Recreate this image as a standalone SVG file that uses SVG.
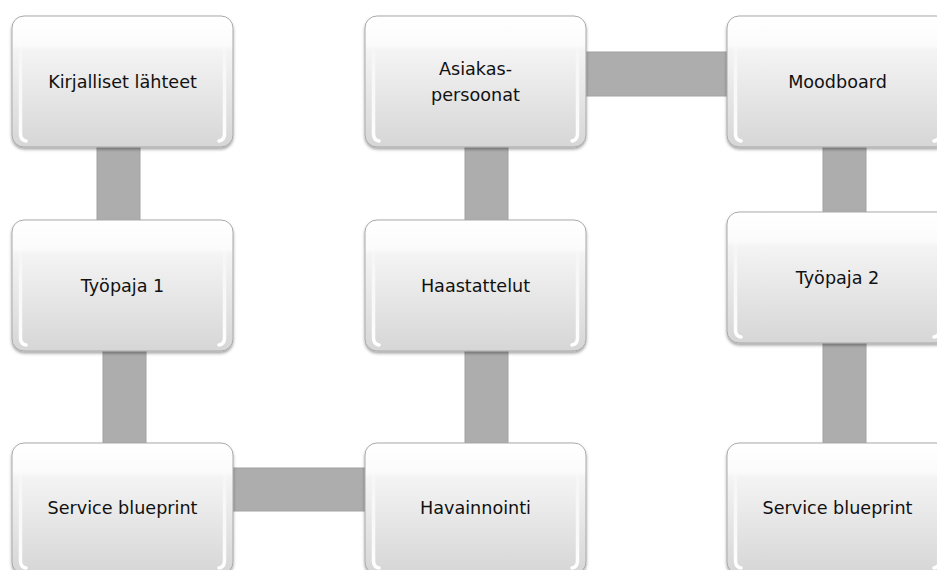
<svg xmlns="http://www.w3.org/2000/svg" width="937" height="570" viewBox="0 0 937 570">
  <defs>
    <linearGradient id="boxFill" x1="0" y1="0" x2="0" y2="1">
      <stop offset="0" stop-color="#ffffff"/>
      <stop offset="0.22" stop-color="#fbfbfb"/>
      <stop offset="0.26" stop-color="#f4f4f4"/>
      <stop offset="1" stop-color="#d6d6d6"/>
    </linearGradient>
    <linearGradient id="bevel" x1="0" y1="0" x2="0" y2="1">
      <stop offset="0" stop-color="#ffffff" stop-opacity="0"/>
      <stop offset="0.35" stop-color="#ffffff" stop-opacity="0.6"/>
      <stop offset="1" stop-color="#ffffff" stop-opacity="1"/>
    </linearGradient>
    <filter id="shadow" x="-10%" y="-10%" width="120%" height="125%">
      <feDropShadow dx="0" dy="2" stdDeviation="1.6" flood-color="#000" flood-opacity="0.35"/>
    </filter>
    <!-- glossy rounded box shared by every step -->
    <g id="box">
      <rect x="0" y="0" width="221" height="131" rx="12" ry="12" fill="url(#boxFill)" stroke="#a9a9a9" stroke-width="1" filter="url(#shadow)"/>
      <path d="M8.5 20 V118 Q8.5 124 14 125 M212.5 20 V118 Q212.5 124 207 125" fill="none" stroke="url(#bevel)" stroke-width="3.5" stroke-linecap="round"/>
    </g>
  </defs>
  <style>
    .conn { fill: #adadad; stroke: #a2a2a2; stroke-width: 1; }
    .lbl { font-family: "DejaVu Sans", "Liberation Sans", sans-serif; font-size: 17.6px; fill: #111; text-anchor: middle; }
  </style>

  <rect width="937" height="570" fill="#ffffff"/>

  <g id="connectors">
    <rect class="conn" x="97" y="140" width="43" height="85"/>
    <rect class="conn" x="103" y="345" width="43" height="104"/>
    <rect class="conn" x="228" y="468" width="142" height="43"/>
    <rect class="conn" x="465" y="345" width="43" height="104"/>
    <rect class="conn" x="465" y="140" width="43" height="85"/>
    <rect class="conn" x="580" y="52" width="152" height="44"/>
    <rect class="conn" x="823" y="140" width="43" height="77"/>
    <rect class="conn" x="823" y="336" width="43" height="113"/>
  </g>

  <g id="kirjalliset-lahteet" transform="translate(12,16)">
    <use href="#box"/>
    <text class="lbl" x="110.5" y="72">Kirjalliset lähteet</text>
  </g>
  <g id="tyopaja-1" transform="translate(12,220)">
    <use href="#box"/>
    <text class="lbl" x="110.5" y="72">Työpaja 1</text>
  </g>
  <g id="service-blueprint-1" transform="translate(12,443)">
    <use href="#box"/>
    <text class="lbl" x="110.5" y="71">Service blueprint</text>
  </g>
  <g id="havainnointi" transform="translate(365,443)">
    <use href="#box"/>
    <text class="lbl" x="110.5" y="71">Havainnointi</text>
  </g>
  <g id="haastattelut" transform="translate(365,220)">
    <use href="#box"/>
    <text class="lbl" x="110.5" y="72">Haastattelut</text>
  </g>
  <g id="asiakas-persoonat" transform="translate(365,16)">
    <use href="#box"/>
    <text class="lbl" x="110.5" y="59">Asiakas-</text>
    <text class="lbl" x="110.5" y="85">persoonat</text>
  </g>
  <g id="moodboard" transform="translate(727,16)">
    <use href="#box"/>
    <text class="lbl" x="110.5" y="72">Moodboard</text>
  </g>
  <g id="tyopaja-2" transform="translate(727,212)">
    <use href="#box"/>
    <text class="lbl" x="110.5" y="72">Työpaja 2</text>
  </g>
  <g id="service-blueprint-2" transform="translate(727,443)">
    <use href="#box"/>
    <text class="lbl" x="110.5" y="71">Service blueprint</text>
  </g>
</svg>
